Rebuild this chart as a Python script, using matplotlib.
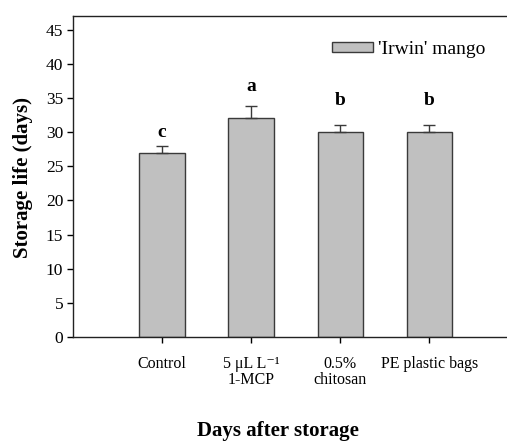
import numpy as np
import matplotlib
matplotlib.use('Agg')
import matplotlib.pyplot as plt

# Data
treatments = ['Control', '5 μL L⁻¹\n1-MCP', '0.5%\nchitosan', 'PE plastic bags']
storage_life = [27.0, 32.0, 30.0, 30.0]
err_up = [0.9, 1.8, 1.0, 1.0]
letters = ['c', 'a', 'b', 'b']
letter_y = [29.3, 36.0, 33.9, 33.9]
y_ticks = [0, 5, 10, 15, 20, 25, 30, 35, 40, 45]

plt.rcParams['font.family'] = ['Liberation Serif', 'DejaVu Serif']

W, H = 507, 441
fig = plt.figure(figsize=(W / 100, H / 100), dpi=100)
# axes runs past the right edge of the picture (right spine cropped off)
ax = fig.add_axes([73 / W, 1 - 337 / H, (518.5 - 73) / W, (337 - 16) / H])

x = np.arange(len(treatments))
bars = ax.bar(x, storage_life, width=0.51, color='#c0c0c0', edgecolor='#3a3a3a',
              linewidth=1.0, label="'Irwin' mango",
              yerr=[np.zeros(len(err_up)), err_up],
              error_kw=dict(ecolor='#3a3a3a', elinewidth=1.0, capsize=4.5, capthick=1.0))

for xi, lab, ly in zip(x, letters, letter_y):
    ax.text(xi, ly, lab, ha='center', va='baseline', fontsize=14, fontweight='bold')

ax.set_xlim(-1, 4)
ax.set_ylim(0, 47)
ax.set_yticks(y_ticks)
ax.set_xticks(x)
ax.set_xticklabels(treatments, fontsize=11.5, linespacing=1.05)
ax.tick_params(axis='y', direction='out', length=4, width=1, labelsize=12.5, pad=3)
ax.tick_params(axis='x', direction='out', length=4, width=1, pad=9.5)
for s in ax.spines.values():
    s.set_linewidth(1.0)
    s.set_color('#222222')

leg = ax.legend(loc='center left', bbox_to_anchor=(332 / W, 1 - 49.5 / H),
                bbox_transform=fig.transFigure, frameon=False, fontsize=14,
                handlelength=2.1, handleheight=0.45, handletextpad=0.25,
                borderpad=0, borderaxespad=0)

fig.text(23 / W, 1 - 177.5 / H, 'Storage life (days)', rotation=90,
         ha='center', va='center', fontsize=15, fontweight='bold')
fig.text(277.5 / W, 1 - 436 / H, 'Days after storage', ha='center',
         va='baseline', fontsize=15, fontweight='bold')

plt.savefig('out.png', dpi=100)
plt.close(fig)
